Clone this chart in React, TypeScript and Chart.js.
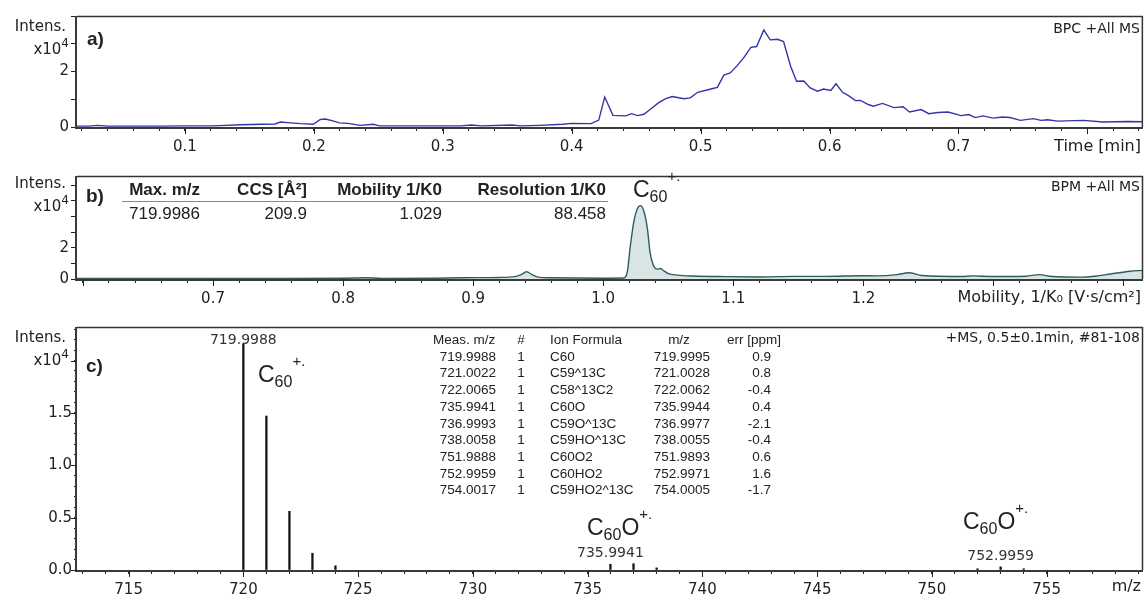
import React, { useEffect, useRef } from "react";
import { Chart, registerables } from "chart.js";
Chart.register(...registerables);

const W = 1146;
const FONT_UI = '"DejaVu Sans", Verdana, sans-serif';
const FONT_AR = '"Liberation Sans", Arial, Helvetica, sans-serif';
const INK = "#222";

// ---------- panel a: base peak chromatogram (Time [min] vs Intens. x10^4)
const bpcTime = [
  0.016, 0.025, 0.032, 0.04, 0.06, 0.08, 0.1, 0.12, 0.127, 0.143, 0.16, 0.17, 0.174, 0.182, 0.19,
  0.1995, 0.205, 0.209, 0.2147, 0.22, 0.2264, 0.236, 0.246, 0.251, 0.28, 0.3, 0.314, 0.322, 0.33,
  0.354, 0.36, 0.375, 0.393, 0.4, 0.415, 0.421, 0.4256, 0.432, 0.442, 0.4465, 0.451, 0.456, 0.461,
  0.4675, 0.473, 0.478, 0.487, 0.492, 0.4977, 0.508, 0.513, 0.518, 0.523, 0.5285, 0.5335, 0.539,
  0.5434, 0.549, 0.554, 0.5597, 0.5643, 0.5698, 0.5744, 0.58, 0.585, 0.5907, 0.5953, 0.601, 0.605,
  0.61, 0.6147, 0.62, 0.624, 0.63, 0.634, 0.641, 0.65, 0.657, 0.662, 0.671, 0.677, 0.684, 0.692,
  0.702, 0.708, 0.713, 0.719, 0.727, 0.734, 0.74, 0.748, 0.758, 0.764, 0.769, 0.777, 0.797, 0.812,
  0.831, 0.843,
];
const bpcIntensity = [
  0.03, 0.03, 0.06, 0.03, 0.03, 0.03, 0.04, 0.04, 0.05, 0.08, 0.1, 0.11, 0.18, 0.15, 0.12,
  0.1, 0.27, 0.29, 0.22, 0.15, 0.13, 0.06, 0.1, 0.04, 0.04, 0.04, 0.04, 0.07, 0.04,
  0.07, 0.04, 0.06, 0.1, 0.13, 0.12, 0.25, 1.08, 0.42, 0.4, 0.48, 0.41, 0.46, 0.64,
  0.88, 1.02, 1.1, 1.02, 1.05, 1.25, 1.37, 1.43, 1.87, 1.95, 2.22, 2.5, 2.87,
  2.9, 3.5, 3.14, 3.16, 3.08, 2.19, 1.65, 1.66, 1.41, 1.29, 1.37, 1.32, 1.56,
  1.25, 1.13, 0.95, 0.96, 0.81, 0.75, 0.85, 0.7, 0.73, 0.54, 0.63, 0.48, 0.52, 0.54,
  0.41, 0.45, 0.34, 0.4, 0.32, 0.36, 0.34, 0.24, 0.3, 0.24, 0.26, 0.21, 0.24, 0.18,
  0.2, 0.19,
];

// ---------- panel b: base peak mobilogram (1/K0 vs Intens. x10^4)
const bpmMobility = [
  0.595, 0.62, 0.65, 0.7, 0.75, 0.8, 0.817, 0.83, 0.87, 0.89, 0.92, 0.932, 0.937, 0.941, 0.945,
  0.95, 0.96, 0.98, 1.0, 1.0154, 1.0185, 1.0208, 1.0238, 1.0262, 1.0285, 1.031, 1.034, 1.036,
  1.0385, 1.0415, 1.044, 1.046, 1.05, 1.057, 1.069, 1.095, 1.121, 1.146, 1.172, 1.198, 1.21,
  1.226, 1.235, 1.245, 1.276, 1.284, 1.3, 1.325, 1.335, 1.345, 1.367, 1.38, 1.39, 1.405, 1.415,
];
const bpmIntensity = [
  0.03, 0.04, 0.03, 0.04, 0.03, 0.05, 0.08, 0.04, 0.05, 0.08, 0.1, 0.15, 0.28, 0.46, 0.3,
  0.12, 0.08, 0.06, 0.05, 0.06, 0.46, 2.1, 3.8, 4.5, 4.7, 4.4, 3.2, 1.7,
  0.88, 0.63, 0.67, 0.56, 0.35, 0.25, 0.19, 0.15, 0.13, 0.17, 0.17, 0.21, 0.2,
  0.28, 0.4, 0.22, 0.16, 0.2, 0.16, 0.18, 0.28, 0.16, 0.12, 0.2, 0.32, 0.5, 0.55,
];
const bpmHeader = ["Max. m/z", "CCS [Å²]", "Mobility 1/K0", "Resolution 1/K0"];
const bpmValues = ["719.9986", "209.9", "1.029", "88.458"];

// ---------- panel c: mass spectrum (m/z vs Intens. x10^4)
const msMz = [719.9988, 721.0022, 722.0065, 723.009, 724.012, 735.9941, 736.9993, 738.0058, 751.9888, 752.9959, 754.0017];
const msIntensity = [2.16, 1.47, 0.56, 0.16, 0.04, 0.055, 0.06, 0.02, 0.012, 0.03, 0.012];
const tableHeader = ["Meas. m/z", "#", "Ion Formula", "m/z", "err [ppm]"];
const tableMeasMz = ["719.9988", "721.0022", "722.0065", "735.9941", "736.9993", "738.0058", "751.9888", "752.9959", "754.0017"];
const tableCount = ["1", "1", "1", "1", "1", "1", "1", "1", "1"];
const tableFormula = ["C60", "C59^13C", "C58^13C2", "C60O", "C59O^13C", "C59HO^13C", "C60O2", "C60HO2", "C59HO2^13C"];
const tableTheoMz = ["719.9995", "721.0028", "722.0062", "735.9944", "736.9977", "738.0055", "751.9893", "752.9971", "754.0005"];
const tableErr = ["0.9", "0.8", "-0.4", "0.4", "-2.1", "-0.4", "0.6", "1.6", "-1.7"];
const labelledPeaks = [719.9988, 735.9941, 752.9959];

// ---------- helpers
type Ctx = CanvasRenderingContext2D;
function text(ctx: Ctx, s: string, x: number, y: number, font: string, align: CanvasTextAlign = "left", color = INK) {
  ctx.font = font;
  ctx.fillStyle = color;
  ctx.textAlign = align;
  ctx.textBaseline = "middle";
  ctx.fillText(s, x, y);
}
type Part = [string, "n" | "sub" | "sup"];
function formula(ctx: Ctx, x: number, yBase: number, parts: Part[]) {
  let cx = x;
  ctx.fillStyle = INK;
  ctx.textAlign = "left";
  ctx.textBaseline = "alphabetic";
  for (const [t, k] of parts) {
    const fs = k === "n" ? 23 : k === "sub" ? 16 : 15;
    const dy = k === "sub" ? 5 : k === "sup" ? -16 : 0;
    ctx.font = `${fs}px ${FONT_AR}`;
    ctx.fillText(t, cx, yBase + dy);
    cx += ctx.measureText(t).width;
  }
}
function intensLabel(ctx: Ctx, yTop: number) {
  text(ctx, "Intens.", 66, yTop + 11, `15px ${FONT_UI}`, "right");
  ctx.font = `12px ${FONT_UI}`;
  const w4 = ctx.measureText("4").width;
  text(ctx, "4", 69, yTop + 28, `12px ${FONT_UI}`, "right");
  text(ctx, "x10", 69 - w4, yTop + 34, `15px ${FONT_UI}`, "right");
}
function frame(chart: any) {
  const ctx: Ctx = chart.ctx;
  const { left, right, top, bottom } = chart.chartArea;
  ctx.save();
  ctx.strokeStyle = "#333";
  ctx.lineWidth = 1.5;
  ctx.beginPath();
  ctx.moveTo(left, top + 0.5);
  ctx.lineTo(right, top + 0.5);
  ctx.moveTo(right - 0.5, top);
  ctx.lineTo(right - 0.5, bottom);
  ctx.stroke();
  ctx.strokeStyle = "#3a3a3a";
  ctx.lineWidth = 2;
  ctx.beginPath();
  ctx.moveTo(left - 1, top);
  ctx.lineTo(left - 1, bottom + 1);
  ctx.lineTo(right, bottom + 1);
  ctx.stroke();
  ctx.restore();
}
function majors(chart: any, axis: "x" | "y", isMajor: (v: number) => boolean, len: number) {
  const ctx: Ctx = chart.ctx;
  const s = chart.scales[axis];
  const { left, bottom } = chart.chartArea;
  ctx.save();
  ctx.strokeStyle = INK;
  ctx.lineWidth = 1;
  ctx.beginPath();
  for (const t of s.ticks) {
    if (!isMajor(t.value)) continue;
    const p = Math.round(s.getPixelForValue(t.value)) + 0.5;
    if (axis === "x") {
      ctx.moveTo(p, bottom);
      ctx.lineTo(p, bottom + len);
    } else {
      ctx.moveTo(left, p);
      ctx.lineTo(left - len, p);
    }
  }
  ctx.stroke();
  ctx.restore();
}
const near = (v: number, step: number) => Math.abs(v / step - Math.round(v / step)) < 1e-6;

function xAxis(min: number, max: number, step: number, label: (v: number) => string, height: number) {
  return {
    type: "linear",
    position: "bottom",
    min,
    max,
    offset: false,
    grid: { display: true, drawOnChartArea: false, drawTicks: true, tickLength: 4, color: INK, lineWidth: 1, offset: false },
    border: { display: false },
    ticks: {
      stepSize: step,
      autoSkip: false,
      maxRotation: 0,
      includeBounds: false,
      padding: 7,
      color: INK,
      font: { family: FONT_UI, size: 15 },
      callback: (v: any) => label(Number(v)),
    },
    afterFit: (s: any) => {
      s.height = height;
    },
  };
}
function yAxis(min: number, max: number, step: number, label: (v: number) => string, tickLen: number) {
  return {
    type: "linear",
    position: "left",
    min,
    max,
    grid: { display: true, drawOnChartArea: false, drawTicks: true, tickLength: tickLen, color: INK, lineWidth: 1 },
    border: { display: false },
    ticks: {
      stepSize: step,
      autoSkip: false,
      includeBounds: false,
      padding: 2,
      color: INK,
      font: { family: FONT_UI, size: 15 },
      callback: (v: any) => label(Number(v)),
    },
    afterFit: (s: any) => {
      s.width = 77;
    },
  };
}

// ---------- chart configs
function configA(top: number) {
  return {
    type: "line",
    data: {
      datasets: [
        {
          data: bpcTime.map((t, i) => ({ x: t, y: bpcIntensity[i] })),
          borderColor: "#3535a8",
          borderWidth: 1.4,
          pointRadius: 0,
          tension: 0,
          fill: false,
        },
      ],
    },
    options: {
      animation: false,
      responsive: false,
      devicePixelRatio: 1,
      layout: { padding: { left: 0, right: 3, top: 16, bottom: 0 } },
      plugins: { legend: { display: false }, tooltip: { enabled: false } },
      scales: {
        x: xAxis(0.0163, 0.843, 0.02, (v) => (near(v, 0.1) && v < 0.75 ? v.toFixed(1) : ""), 38),
        y: yAxis(0, 4, 1, (v) => (v === 0 || v === 2 ? String(v) : ""), 6),
      },
    },
    plugins: [
      {
        id: "decorA",
        afterDraw(chart: any) {
          const ctx: Ctx = chart.ctx;
          frame(chart);
          majors(chart, "x", (v) => near(v, 0.1), 7);
          ctx.save();
          ctx.translate(0, -top);
          intensLabel(ctx, 16);
          text(ctx, "a)", 87, 40, `bold 19px ${FONT_AR}`);
          text(ctx, "BPC +All MS", 1140, 29, `14px ${FONT_UI}`, "right");
          text(ctx, "Time [min]", 1141, 147, `16px ${FONT_UI}`, "right");
          ctx.restore();
        },
      },
    ],
  };
}

function configB(top: number) {
  return {
    type: "line",
    data: {
      datasets: [
        {
          data: bpmMobility.map((m, i) => ({ x: m, y: bpmIntensity[i] })),
          borderColor: "#2f5c5c",
          backgroundColor: "#d9e5e5",
          borderWidth: 1.4,
          pointRadius: 0,
          tension: 0.35,
          cubicInterpolationMode: "monotone",
          fill: "origin",
        },
      ],
    },
    options: {
      animation: false,
      responsive: false,
      devicePixelRatio: 1,
      layout: { padding: { left: 0, right: 3, top: 8, bottom: 0 } },
      plugins: { legend: { display: false }, tooltip: { enabled: false } },
      scales: {
        x: xAxis(0.5954, 1.415, 0.02, (v) => (near(v, 0.1) && v > 0.65 && v < 1.25 ? v.toFixed(1) : ""), 36),
        y: yAxis(0, 6.6, 1, (v) => (v === 0 || v === 2 ? String(v) : ""), 6),
      },
    },
    plugins: [
      {
        id: "decorB",
        afterDraw(chart: any) {
          const ctx: Ctx = chart.ctx;
          frame(chart);
          majors(chart, "x", (v) => near(v, 0.1), 7);
          ctx.save();
          ctx.translate(0, -top);
          intensLabel(ctx, 173);
          text(ctx, "b)", 86, 197, `bold 19px ${FONT_AR}`);
          text(ctx, "BPM +All MS", 1140, 187, `14px ${FONT_UI}`, "right");
          text(ctx, "Mobility, 1/K\u2080 [V\u00b7s/cm\u00b2]", 1141, 298, `16px ${FONT_UI}`, "right");
          const rights = [200, 307, 442, 606];
          bpmHeader.forEach((h, i) => text(ctx, h, rights[i], 190, `bold 17px ${FONT_AR}`, "right"));
          bpmValues.forEach((v, i) => text(ctx, v, rights[i], 214, `17px ${FONT_AR}`, "right"));
          ctx.strokeStyle = "#888";
          ctx.lineWidth = 1;
          ctx.beginPath();
          ctx.moveTo(122, 201.5);
          ctx.lineTo(608, 201.5);
          ctx.stroke();
          formula(ctx, 633, 197, [["C", "n"], ["60", "sub"], ["+.", "sup"]]);
          ctx.restore();
        },
      },
    ],
  };
}

function configC(top: number) {
  return {
    type: "bar",
    data: {
      datasets: [
        {
          data: msMz.map((m, i) => ({ x: m, y: msIntensity[i] })),
          backgroundColor: "#111",
          borderWidth: 0,
          barThickness: 1.6,
        },
      ],
    },
    options: {
      animation: false,
      responsive: false,
      devicePixelRatio: 1,
      layout: { padding: { left: 0, right: 3, top: 12, bottom: 0 } },
      plugins: { legend: { display: false }, tooltip: { enabled: false } },
      scales: {
        x: xAxis(712.75, 759.2, 1, (v) => (near(v, 5) ? String(Math.round(v)) : ""), 26),
        y: yAxis(0, 2.32, 0.1, (v) => (near(v, 0.5) && v < 1.9 ? v.toFixed(1) : ""), 3),
      },
    },
    plugins: [
      {
        id: "decorC",
        afterDraw(chart: any) {
          const ctx: Ctx = chart.ctx;
          frame(chart);
          majors(chart, "x", (v) => near(v, 5), 7);
          majors(chart, "y", (v) => near(v, 0.5), 6);
          const xs = chart.scales.x;
          ctx.save();
          ctx.translate(0, -top);
          intensLabel(ctx, 327);
          text(ctx, "c)", 86, 367, `bold 19px ${FONT_AR}`);
          text(ctx, "+MS, 0.5\u00b10.1min, #81-108", 1140, 338, `14px ${FONT_UI}`, "right");
          text(ctx, "m/z", 1141, 587, `16px ${FONT_UI}`, "right");
          // peak labels
          const ly = [340, 553, 556];
          labelledPeaks.forEach((m, i) => text(ctx, m.toFixed(4), xs.getPixelForValue(m), ly[i], `14px ${FONT_UI}`, "center", "#333"));
          formula(ctx, 258, 382, [["C", "n"], ["60", "sub"], ["+.", "sup"]]);
          formula(ctx, 587, 535, [["C", "n"], ["60", "sub"], ["O", "n"], ["+.", "sup"]]);
          formula(ctx, 963, 529, [["C", "n"], ["60", "sub"], ["O", "n"], ["+.", "sup"]]);
          // table
          const f = `13.5px ${FONT_AR}`;
          const hy = 340;
          text(ctx, tableHeader[0], 433, hy, f, "left");
          text(ctx, tableHeader[1], 521, hy, f, "center");
          text(ctx, tableHeader[2], 550, hy, f, "left");
          text(ctx, tableHeader[3], 679, hy, f, "center");
          text(ctx, tableHeader[4], 727, hy, f, "left");
          tableMeasMz.forEach((_, i) => {
            const y = 357 + i * 16.7;
            text(ctx, tableMeasMz[i], 496, y, f, "right");
            text(ctx, tableCount[i], 521, y, f, "center");
            text(ctx, tableFormula[i], 550, y, f, "left");
            text(ctx, tableTheoMz[i], 710, y, f, "right");
            text(ctx, tableErr[i], 771, y, f, "right");
          });
          ctx.restore();
        },
      },
    ],
  };
}

function Panel({ top, height, make }: { top: number; height: number; make: (top: number) => any }) {
  const ref = useRef<HTMLCanvasElement>(null);
  useEffect(() => {
    const chart = new Chart(ref.current as HTMLCanvasElement, make(top) as any);
    return () => chart.destroy();
  }, []);
  return (
    <canvas
      ref={ref}
      width={W}
      height={height}
      style={{ position: "absolute", left: 0, top, width: W, height, display: "block" }}
    />
  );
}

export default function App() {
  return (
    <div style={{ position: "absolute", left: 0, top: 0, width: W, height: 596, background: "#fff", overflow: "hidden" }}>
      <Panel top={0} height={165} make={configA} />
      <Panel top={165} height={150} make={configB} />
      <Panel top={315} height={281} make={configC} />
    </div>
  );
}
